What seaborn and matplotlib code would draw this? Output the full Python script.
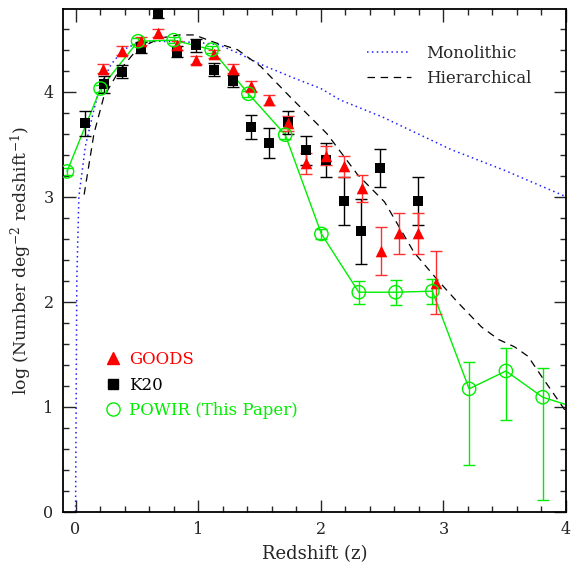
import numpy as np
import pandas as pd
import seaborn as sns
import matplotlib.pyplot as plt
from matplotlib.ticker import MultipleLocator
from matplotlib.lines import Line2D

# ---------------- data ----------------
goods_z = [0.22, 0.375, 0.53, 0.675, 0.83, 0.98, 1.13, 1.28, 1.43, 1.58, 1.73,
           1.88, 2.04, 2.19, 2.34, 2.49, 2.64, 2.79, 2.94]
goods_y = [4.22, 4.39, 4.48, 4.56, 4.44, 4.30, 4.36, 4.22, 4.05, 3.92, 3.70,
           3.32, 3.39, 3.29, 3.08, 2.48, 2.65, 2.65, 2.18]
goods_err = [0.04, 0.04, 0.04, 0.04, 0.04, 0.04, 0.04, 0.04, 0.05, 0.05, 0.07,
             0.10, 0.09, 0.10, 0.13, 0.23, 0.195, 0.195, 0.30]

k20_z = [0.076, 0.23, 0.375, 0.53, 0.675, 0.83, 0.98, 1.13, 1.28, 1.43, 1.58,
         1.73, 1.88, 2.04, 2.19, 2.33, 2.48, 2.79]
k20_y = [3.70, 4.07, 4.19, 4.42, 4.75, 4.38, 4.44, 4.21, 4.10, 3.66, 3.51,
         3.71, 3.44, 3.35, 2.96, 2.67, 3.27, 2.96]
k20_err = [0.12, 0.08, 0.06, 0.05, 0.05, 0.05, 0.06, 0.06, 0.06, 0.115, 0.14,
           0.11, 0.14, 0.16, 0.23, 0.31, 0.18, 0.23]

powir_z = [-0.07, 0.204, 0.51, 0.80, 1.11, 1.41, 1.71, 2.005, 2.31, 2.61, 2.91,
           3.21, 3.51, 3.81, 4.11]
powir_y = [3.24, 4.03, 4.48, 4.49, 4.40, 3.98, 3.59, 2.645, 2.09, 2.09, 2.10,
           1.17, 1.34, 1.09, 0.98]
powir_err_lo = [0.03, 0.03, 0.03, 0.03, 0.03, 0.03, 0.04, 0.045, 0.11, 0.12, 0.12,
                0.73, 0.47, 0.98, 0.0]
powir_err_hi = [0.03, 0.03, 0.03, 0.03, 0.03, 0.03, 0.04, 0.045, 0.11, 0.12, 0.12,
                0.26, 0.22, 0.28, 0.0]

mono_z = [0.0, 0.01, 0.027, 0.08, 0.15, 0.2, 0.29, 0.39, 0.5, 0.67, 0.97, 1.16,
          1.32, 1.51, 1.78, 2.0, 2.16, 2.5, 3.06, 3.5, 4.0]
mono_y = [0.0, 2.2, 3.0, 3.48, 3.83, 4.05, 4.26, 4.40, 4.46, 4.48, 4.47, 4.45,
          4.37, 4.26, 4.13, 4.03, 3.92, 3.76, 3.45, 3.25, 3.0]

hier_z = [0.07, 0.15, 0.23, 0.35, 0.5, 0.69, 0.85, 0.97, 1.13, 1.32, 1.51, 1.75,
          2.05, 2.3, 2.52, 2.76, 2.95, 3.12, 3.31, 3.45, 3.58, 3.69, 3.8, 3.99]
hier_y = [3.02, 3.6, 3.95, 4.19, 4.4, 4.51, 4.54, 4.54, 4.47, 4.4, 4.24, 3.95,
          3.6, 3.21, 2.95, 2.47, 2.21, 1.99, 1.76, 1.64, 1.57, 1.48, 1.29, 0.97]

x_ticks = [0, 1, 2, 3, 4]
y_ticks = [0, 1, 2, 3, 4]

# ---------------- style ----------------
sns.set_style("ticks")
plt.rcParams['font.family'] = ['DejaVu Serif']
plt.rcParams['mathtext.fontset'] = 'dejavuserif'
plt.rcParams['font.size'] = 12

GREEN = '#00ee00'
BLUE = '#2020ff'

fig = plt.figure(figsize=(5.71, 5.64), dpi=100)
ax = fig.add_axes([63.3 / 571, 1 - 511.7 / 564, (566 - 63.3) / 571, (511.7 - 9) / 564])

# model curves
sns.lineplot(x=mono_z, y=mono_y, ax=ax, color=BLUE, linestyle=(0, (1, 2.2)),
             linewidth=1.1, estimator=None, sort=False)
sns.lineplot(x=hier_z, y=hier_y, ax=ax, color='black', linestyle=(0, (6, 4.5)),
             linewidth=0.9, estimator=None, sort=False)

# POWIR line + errors
sns.lineplot(x=powir_z, y=powir_y, ax=ax, color=GREEN, linewidth=1.0,
             estimator=None, sort=False)
ax.errorbar(powir_z, powir_y, yerr=[powir_err_lo, powir_err_hi], fmt='none',
            ecolor=GREEN, elinewidth=1.0, capsize=4.3, capthick=1.0)

# K20
ax.errorbar(k20_z, k20_y, yerr=k20_err, fmt='none', ecolor='black',
            elinewidth=1.0, capsize=4.3, capthick=1.0)
sns.scatterplot(x=k20_z, y=k20_y, ax=ax, marker='s', s=42, color='black',
                edgecolor='black', linewidth=0, zorder=4)

# GOODS
ax.errorbar(goods_z, goods_y, yerr=goods_err, fmt='none', ecolor='#ff3030',
            elinewidth=1.0, capsize=4.3, capthick=1.0)
sns.scatterplot(x=goods_z, y=goods_y, ax=ax, marker='^', s=70, color='red',
                edgecolor='red', linewidth=0, zorder=5)

# POWIR markers
sns.scatterplot(x=powir_z, y=powir_y, ax=ax, marker='o', s=92, facecolor='none',
                edgecolor=GREEN, linewidth=1.0, zorder=6)

# ---------------- axes ----------------
ax.set_xlim(-0.1, 4.0)
ax.set_ylim(0, 4.787)
ax.set_xticks(x_ticks)
ax.set_yticks(y_ticks)
ax.xaxis.set_minor_locator(MultipleLocator(0.2))
ax.yaxis.set_minor_locator(MultipleLocator(0.2))
ax.tick_params(which='both', direction='in', top=True, right=True, width=1.0,
               labelsize=11.5, pad=7)
ax.tick_params(which='major', length=9)
ax.tick_params(which='minor', length=4.5)
for sp in ax.spines.values():
    sp.set_linewidth(1.3)
    sp.set_color('black')

ax.set_xlabel('Redshift (z)', fontsize=13, labelpad=5)
ax.set_ylabel(r'log (Number deg$^{-2}$ redshift$^{-1}$)', fontsize=12.5, labelpad=7)

# legends
h1 = [Line2D([], [], color=BLUE, linestyle=(0, (1, 2.2)), linewidth=1.1),
      Line2D([], [], color='black', linestyle=(0, (6, 4.5)), linewidth=0.9)]
leg1 = ax.legend(h1, ['Monolithic', 'Hierarchical'], loc='upper left',
                 bbox_to_anchor=(0.575, 0.959), frameon=False, fontsize=12,
                 handlelength=2.6, handletextpad=0.9, labelspacing=0.5)
ax.add_artist(leg1)

h2 = [Line2D([], [], marker='^', color='red', linestyle='none', markersize=8),
      Line2D([], [], marker='s', color='black', linestyle='none', markersize=6.5),
      Line2D([], [], marker='o', markerfacecolor='none', markeredgecolor=GREEN,
             linestyle='none', markersize=9.5)]
leg2 = ax.legend(h2, ['GOODS', 'K20', 'POWIR (This Paper)'], loc='upper left',
                 bbox_to_anchor=(0.053, 0.349), frameon=False, fontsize=12,
                 handlelength=1.0, handletextpad=0.45, labelspacing=0.5,
                 labelcolor=['red', 'black', GREEN])

fig.savefig('out.png', dpi=100)
